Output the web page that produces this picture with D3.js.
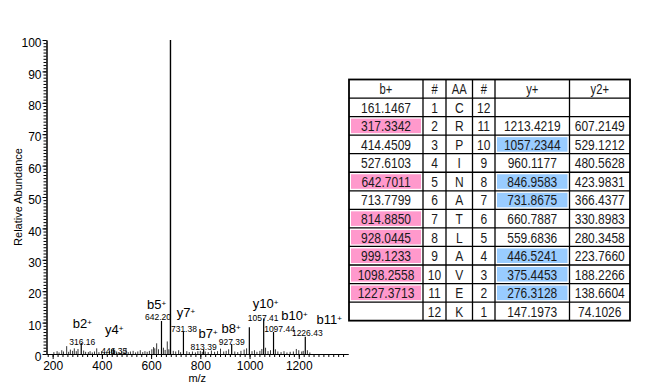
<!DOCTYPE html>
<html>
<head>
<meta charset="utf-8">
<script src="https://cdn.jsdelivr.net/npm/d3@7"></script>
<style>
  body { margin: 0; background: #fff; }
  svg { display: block; font-family: "Liberation Sans", Arial, Helvetica, sans-serif; }
</style>
</head>
<body>
<svg id="chart" width="657" height="386"></svg>
<script>
// labelled fragment peaks [m/z, relative abundance]
const fragmentPeaks = [
  [316.16, 3.5], [446.35, 1.6], [642.20, 10.5], [731.38, 7.1], [813.39, 1.5],
  [927.39, 3.2], [999.12, 8.5], [1057.41, 11.3], [1097.44, 7.0], [1226.43, 5.5]
];
// precursor (base peak)
const basePeak = [678.7, 100];
// small unlabelled peaks [m/z, relative abundance]
const minorPeaks = [
  [205, 0.6], [218, 0.9], [226, 0.5], [237, 1.2], [244, 0.8], [257, 2.5], [265, 0.7], [272, 1.4],
  [281, 1.0], [288, 1.8], [296, 0.9], [303, 1.6], [326, 1.1], [334, 0.7], [345, 0.6], [352, 0.9],
  [361, 0.5], [370, 0.8], [379, 1.8], [388, 0.6], [399, 0.9], [410, 0.5], [420, 0.7], [431, 1.0],
  [439, 1.5], [452, 1.3], [460, 0.8], [470, 0.6], [481, 0.9], [490, 0.7], [498, 1.8], [507, 0.6],
  [516, 0.8], [527, 1.0], [537, 0.5], [546, 0.8], [556, 1.2], [566, 0.6], [575, 0.9], [584, 0.7],
  [593, 1.0], [603, 1.5], [610, 2.2], [615, 1.8], [622.6, 3.4], [630, 1.5], [650, 2.0], [657, 1.3],
  [665.7, 4.0], [672, 1.5], [690, 1.0], [700, 0.8], [712, 1.2], [720, 0.6], [745, 0.9], [755, 0.6],
  [768, 0.8], [780, 0.5], [790, 0.9], [800, 1.0], [808, 0.7], [820, 0.8], [832, 0.6], [845, 1.1],
  [858, 0.7], [870, 0.9], [882, 1.7], [895, 0.8], [905, 1.0], [915, 1.5], [940, 0.8], [952, 0.6],
  [965, 1.0], [978, 1.4], [988, 1.8], [1010, 0.9], [1020, 1.2], [1030, 0.7], [1042, 1.0], [1050, 1.6],
  [1065, 2.0], [1075, 0.9], [1085, 1.2], [1105, 1.5], [1115, 0.8], [1128, 0.6], [1140, 0.9], [1152, 0.5],
  [1165, 0.7], [1178, 0.8], [1190, 1.6], [1200, 1.2], [1212, 0.8], [1218, 1.0], [1235, 1.2], [1245, 0.5]
];

// ion annotations: ion name, index of peak in fragmentPeaks, m/z text
const ionNames = ['b2', 'y4', 'b5', 'y7', 'b7', 'b8', 'y10', 'b10', 'b11'];
const ionPeakIndex = [0, 1, 2, 3, 4, 5, 7, 8, 9];
const ionMzText = ['316.16', '446.35', '642.20', '731.38', '813.39', '927.39', '1057.41', '1097.44', '1226.43'];

const xTickValues = [200, 400, 600, 800, 1000, 1200];
const yTickValues = [0, 10, 20, 30, 40, 50, 60, 70, 80, 90, 100];

// fragment table
const tableHeaders = ['b+', '#', 'AA', '#', 'y+', 'y2+'];
const bIons = ['161.1467', '317.3342', '414.4509', '527.6103', '642.7011', '713.7799', '814.8850',
  '928.0445', '999.1233', '1098.2558', '1227.3713', ''];
const bNumbers = [1, 2, 3, 4, 5, 6, 7, 8, 9, 10, 11, 12];
const residues = ['C', 'R', 'P', 'I', 'N', 'A', 'T', 'L', 'A', 'V', 'E', 'K'];
const yNumbers = [12, 11, 10, 9, 8, 7, 6, 5, 4, 3, 2, 1];
const yIons = ['', '1213.4219', '1057.2344', '960.1177', '846.9583', '731.8675', '660.7887',
  '559.6836', '446.5241', '375.4453', '276.3128', '147.1973'];
const y2Ions = ['', '607.2149', '529.1212', '480.5628', '423.9831', '366.4377', '330.8983',
  '280.3458', '223.7660', '188.2266', '138.6604', '74.1026'];
const bObserved = [2, 5, 7, 8, 9, 10, 11];
const yObserved = [10, 8, 7, 4, 3, 2];

// layout
const svg = d3.select('#chart');
const x = d3.scaleLinear().domain([175, 1400]).range([46.5, 348]);
const y = d3.scaleLinear().domain([0, 100]).range([354, 40]);

// label offsets from the peak top [dx, dy] for ion name and m/z text
const ionOffsets = [[1, -20], [1, -20], [-5, -17], [2.5, -19], [4.5, -16], [-0.5, -16], [2, -15.5], [21, -17], [24, -17.7]];
const mzOffsets = [[1, -1], [1, 2.5], [-3.5, -4], [0.5, -3], [0, -2], [0, -2], [-0.5, -0.5], [6, -3], [2, -3.7]];

// axes
svg.append('g').attr('transform', `translate(0,${y(0)})`)
  .call(d3.axisBottom(x).tickValues(d3.range(180, 1400, 20)).tickSize(3).tickSizeOuter(0).tickFormat(''));
const xAxis = svg.append('g').attr('transform', `translate(0,${y(0)})`)
  .call(d3.axisBottom(x).tickValues(xTickValues).tickSize(5).tickSizeOuter(0).tickPadding(2).tickFormat(d3.format('d')));
xAxis.selectAll('text').style('font-size', '12px').attr('fill', '#000');

svg.append('g').attr('transform', `translate(${x.range()[0]},0)`)
  .call(d3.axisLeft(y).tickValues(d3.range(0, 101, 1)).tickSize(3).tickSizeOuter(0).tickFormat(''));
const yAxis = svg.append('g').attr('transform', `translate(${x.range()[0]},0)`)
  .call(d3.axisLeft(y).tickValues(yTickValues).tickSize(4).tickSizeOuter(0).tickPadding(1));
yAxis.selectAll('text').style('font-size', '12px').attr('fill', '#000').attr('dy', '0.55em');

svg.selectAll('.domain, .tick line').attr('stroke', '#000');

svg.append('text')
  .attr('transform', `translate(22,${(y(0) + y(100)) / 2}) rotate(-90)`)
  .attr('text-anchor', 'middle')
  .style('font-size', '11px')
  .text('Relative Abundance');

svg.append('text')
  .attr('x', (x.range()[0] + x.range()[1]) / 2)
  .attr('y', 382)
  .attr('text-anchor', 'middle')
  .style('font-size', '11px')
  .text('m/z');

// peaks
const peaks = svg.append('g').attr('stroke', '#000');
peaks.selectAll('.minor').data(minorPeaks).join('line')
  .attr('class', 'minor')
  .attr('x1', d => x(d[0])).attr('x2', d => x(d[0]))
  .attr('y1', y(0)).attr('y2', d => y(d[1]))
  .attr('stroke-width', 0.8);
peaks.selectAll('.frag').data(fragmentPeaks).join('line')
  .attr('class', 'frag')
  .attr('x1', d => x(d[0])).attr('x2', d => x(d[0]))
  .attr('y1', y(0)).attr('y2', d => y(d[1]))
  .attr('stroke-width', 1.2);
peaks.append('line')
  .attr('x1', x(basePeak[0])).attr('x2', x(basePeak[0]))
  .attr('y1', y(0)).attr('y2', y(basePeak[1]))
  .attr('stroke-width', 1.4);

// annotations
const ann = svg.append('g');
ionNames.forEach((name, i) => {
  const p = fragmentPeaks[ionPeakIndex[i]];
  const px = x(p[0]), py = y(p[1]);
  const t = ann.append('text')
    .attr('x', px + ionOffsets[i][0])
    .attr('y', py + ionOffsets[i][1])
    .attr('dy', '0.35em')
    .attr('text-anchor', 'middle')
    .style('font-size', '13px');
  t.append('tspan').text(name);
  t.append('tspan').attr('dy', '-3').style('font-size', '8px').text('+');
  ann.append('text')
    .attr('x', px + mzOffsets[i][0])
    .attr('y', py + mzOffsets[i][1])
    .attr('dy', '0.35em')
    .attr('text-anchor', 'middle')
    .style('font-size', '8.5px')
    .text(ionMzText[i]);
});

// fragment table
const colEdges = [349, 423, 446, 472.5, 495, 569.5, 630];
const tableTop = 79.5, rowH = 18.55;
const tbl = svg.append('g');
const rows = bIons.map((b, i) => [b, bNumbers[i], residues[i], yNumbers[i], yIons[i], y2Ions[i]]);
const allRows = [tableHeaders].concat(rows);

// highlight fills
const fills = [];
bObserved.forEach(n => fills.push({ col: 0, row: bNumbers.indexOf(n) + 1, color: '#ff99cc' }));
yObserved.forEach(n => fills.push({ col: 4, row: yNumbers.indexOf(n) + 1, color: '#99ccff' }));
tbl.selectAll('.hl').data(fills).join('rect')
  .attr('class', 'hl')
  .attr('x', d => colEdges[d.col] + 2)
  .attr('y', d => tableTop + d.row * rowH + 2)
  .attr('width', d => colEdges[d.col + 1] - colEdges[d.col] - 4)
  .attr('height', rowH - 4)
  .attr('fill', d => d.color);

// grid lines
const nRows = allRows.length;
d3.range(1, nRows).forEach(r => {
  tbl.append('line')
    .attr('x1', colEdges[0]).attr('x2', colEdges[colEdges.length - 1])
    .attr('y1', tableTop + r * rowH).attr('y2', tableTop + r * rowH)
    .attr('stroke', '#000').attr('stroke-width', 1.3);
});
colEdges.slice(1, -1).forEach(cx => {
  tbl.append('line')
    .attr('x1', cx).attr('x2', cx)
    .attr('y1', tableTop).attr('y2', tableTop + nRows * rowH)
    .attr('stroke', '#000').attr('stroke-width', 1.3);
});
tbl.append('rect')
  .attr('x', colEdges[0]).attr('y', tableTop)
  .attr('width', colEdges[colEdges.length - 1] - colEdges[0])
  .attr('height', nRows * rowH)
  .attr('fill', 'none').attr('stroke', '#000').attr('stroke-width', 1.8);

// cell text (condensed face imitated with a horizontal squeeze)
allRows.forEach((row, r) => {
  row.forEach((val, c) => {
    if (val === '') return;
    const cx = (colEdges[c] + colEdges[c + 1]) / 2;
    const cy = tableTop + r * rowH + rowH / 2;
    tbl.append('text')
      .attr('transform', `translate(${cx},${cy}) scale(0.8,1)`)
      .attr('dy', '0.36em')
      .attr('text-anchor', 'middle')
      .attr('fill', '#1a1a1a')
      .style('font-size', r === 0 ? '14px' : '15px')
      .text(val);
  });
});
</script>
</body>
</html>
